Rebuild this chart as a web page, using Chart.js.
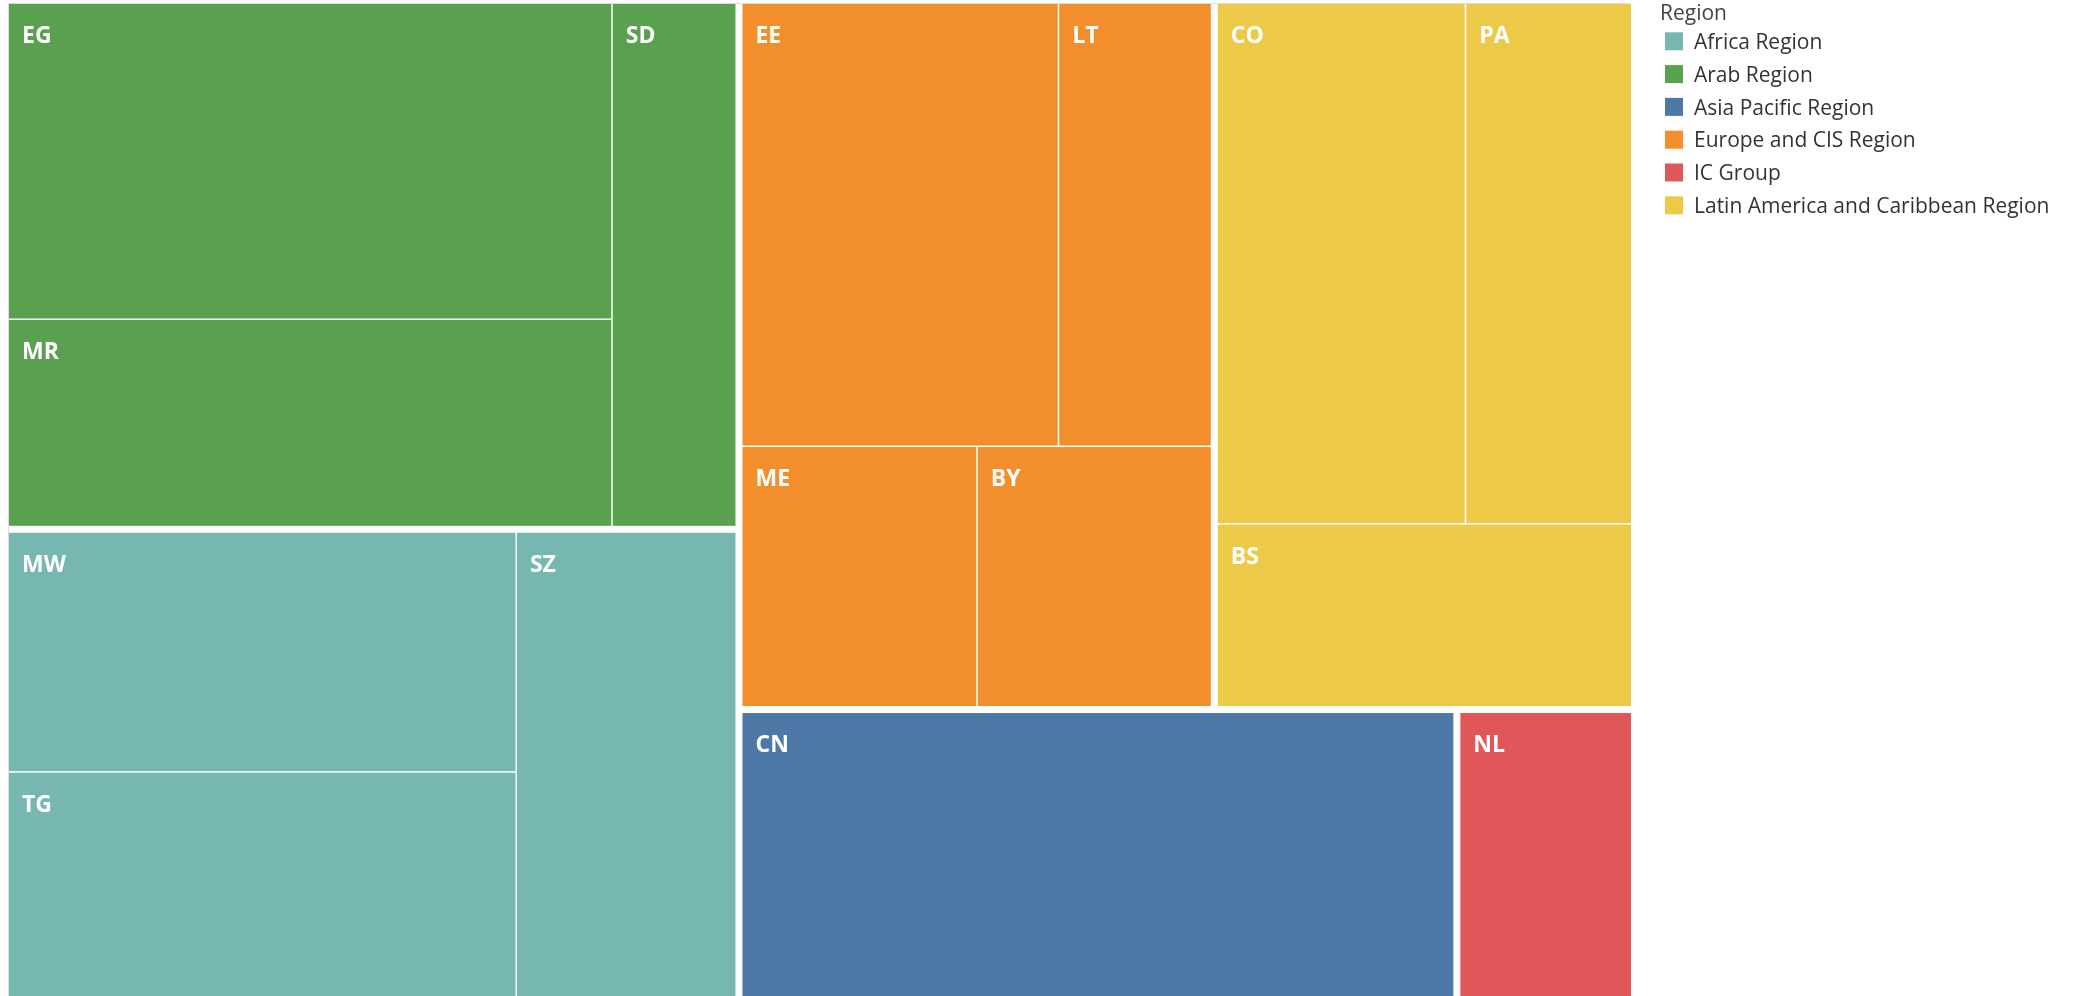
<!DOCTYPE html>
<html>
<head>
<meta charset="utf-8">
<title>Treemap by region</title>
<script src="https://cdn.jsdelivr.net/npm/chart.js@4.4.1/dist/chart.umd.min.js"></script>
<style>
  html, body { margin: 0; padding: 0; background: #fff; }
  #wrap { position: relative; width: 2082px; height: 996px; overflow: hidden; }
</style>
</head>
<body>
<div id="wrap"><canvas id="treemap" width="2082" height="996"></canvas></div>
<script>
// regions (legend order) and their colours
const regionNames = ['Africa Region', 'Arab Region', 'Asia Pacific Region', 'Europe and CIS Region', 'IC Group', 'Latin America and Caribbean Region'];
const regionColors = ['#76B7B2', '#59A14F', '#4E79A7', '#F28E2B', '#E15759', '#EDC948'];

// one cell per country
const countryCodes = ['EG', 'MR', 'SD', 'MW', 'TG', 'SZ', 'EE', 'LT', 'ME', 'BY', 'CO', 'PA', 'BS', 'CN', 'NL'];
const countryRegion = [1, 1, 1, 0, 0, 0, 3, 3, 3, 3, 5, 5, 5, 2, 4];
const countryValues = [119.5, 78.3, 40.5, 76.3, 71.5, 63.9, 88.6, 42.7, 38.6, 38.5, 81.1, 54.2, 47.4, 127.8, 31.0];

// plotting box in scale units (1 unit = 1 px)
const AREA_W = 1622, AREA_H = 992;
const REGION_GAP = 7, CELL_GAP = 1.5;
const PHI = (1 + Math.sqrt(5)) / 2;

// squarified layout (golden-ratio target), items sorted by value desc
function squarify(items, rect) {
  let { x0, y0, x1, y1 } = rect;
  let remaining = items.reduce((s, d) => s + d.value, 0);
  const n = items.length;
  let i0 = 0;
  while (i0 < n) {
    const dx = x1 - x0, dy = y1 - y0;
    let i1 = i0;
    let sum = items[i1++].value, minV = sum, maxV = sum;
    const alpha = Math.max(dy / dx, dx / dy) / (remaining * PHI);
    let beta = sum * sum * alpha;
    let minRatio = Math.max(maxV / beta, beta / minV);
    for (; i1 < n; i1++) {
      const v = items[i1].value;
      const s = sum + v, mn = Math.min(minV, v), mx = Math.max(maxV, v);
      beta = s * s * alpha;
      const r = Math.max(mx / beta, beta / mn);
      if (r > minRatio) break;
      minRatio = r; sum = s; minV = mn; maxV = mx;
    }
    const row = items.slice(i0, i1);
    if (dx < dy) {
      // row across the top
      const yb = i1 < n ? y0 + dy * sum / remaining : y1;
      let x = x0;
      row.forEach((d, k) => {
        const nx = k === row.length - 1 ? x1 : x + dx * d.value / sum;
        Object.assign(d, { x0: x, x1: nx, y0: y0, y1: yb });
        x = nx;
      });
      y0 = yb;
    } else {
      // column down the left side
      const xb = i1 < n ? x0 + dx * sum / remaining : x1;
      let y = y0;
      row.forEach((d, k) => {
        const ny = k === row.length - 1 ? y1 : y + dy * d.value / sum;
        Object.assign(d, { x0: x0, x1: xb, y0: y, y1: ny });
        y = ny;
      });
      x0 = xb;
    }
    remaining -= sum;
    i0 = i1;
  }
  return items;
}

// shrink a rect on the sides that are not on the outer border
function inset(r, gap, outer) {
  const h = gap / 2, eps = 0.01;
  return {
    x0: Math.abs(r.x0 - outer.x0) < eps ? r.x0 : r.x0 + h,
    x1: Math.abs(r.x1 - outer.x1) < eps ? r.x1 : r.x1 - h,
    y0: Math.abs(r.y0 - outer.y0) < eps ? r.y0 : r.y0 + h,
    y1: Math.abs(r.y1 - outer.y1) < eps ? r.y1 : r.y1 - h
  };
}

function buildCells() {
  const outer = { x0: 0, y0: 0, x1: AREA_W, y1: AREA_H };
  const groups = regionNames.map((name, i) => {
    const kids = countryCodes
      .map((code, j) => ({ code, value: countryValues[j], region: countryRegion[j] }))
      .filter(d => d.region === i)
      .sort((a, b) => b.value - a.value);
    return { index: i, kids, value: kids.reduce((s, d) => s + d.value, 0) };
  }).sort((a, b) => b.value - a.value);

  squarify(groups, outer);
  const cells = [];
  groups.forEach(g => {
    const box = inset(g, REGION_GAP, outer);
    squarify(g.kids, box);
    g.kids.forEach(k => {
      const r = inset(k, CELL_GAP, box);
      cells.push({ ...r, code: k.code, color: regionColors[g.index] });
    });
  });
  return cells;
}

const cells = buildCells();

const treemapPlugin = {
  id: 'treemapCells',
  beforeDatasetsDraw(chart) {
    const { ctx, chartArea, scales: { x, y } } = chart;
    ctx.save();
    // faint pane border
    ctx.strokeStyle = 'rgba(0,0,0,0.13)';
    ctx.lineWidth = 1;
    ctx.beginPath();
    ctx.moveTo(chartArea.left - 0.5, chartArea.bottom);
    ctx.lineTo(chartArea.left - 0.5, chartArea.top - 0.5);
    ctx.lineTo(chartArea.right, chartArea.top - 0.5);
    ctx.stroke();

    cells.forEach(c => {
      const left = x.getPixelForValue(c.x0), right = x.getPixelForValue(c.x1);
      const top = y.getPixelForValue(c.y0), bottom = y.getPixelForValue(c.y1);
      ctx.fillStyle = c.color;
      ctx.fillRect(left, top, right - left, bottom - top);
    });
    ctx.fillStyle = '#ffffff';
    ctx.font = 'bold 23px "Open Sans"';
    ctx.textBaseline = 'alphabetic';
    ctx.textAlign = 'left';
    cells.forEach(c => {
      const left = x.getPixelForValue(c.x0), top = y.getPixelForValue(c.y0);
      ctx.fillText(c.code, left + 13, top + 39.4);
    });
    ctx.restore();
  }
};

const legendPlugin = {
  id: 'regionLegend',
  afterDraw(chart) {
    const { ctx, chartArea } = chart;
    const lx = chartArea.right + 29;
    ctx.save();
    ctx.textBaseline = 'alphabetic';
    ctx.font = '21px "Open Sans"';
    ctx.fillStyle = '#444';
    ctx.fillText('Region', lx, 20);
    regionNames.forEach((name, i) => {
      const top = 32.3 + i * 32.8;
      ctx.fillStyle = regionColors[i];
      ctx.fillRect(lx + 5, top, 18, 18);
      ctx.fillStyle = '#333';
      ctx.fillText(name, lx + 34, top + 16.7);
    });
    ctx.restore();
  }
};

function draw() {
  new Chart(document.getElementById('treemap'), {
    type: 'scatter',
    data: {
      datasets: regionNames.map((name, i) => ({ label: name, data: [], backgroundColor: regionColors[i] }))
    },
    options: {
      responsive: false,
      animation: false,
      layout: { padding: { left: 9, top: 4, right: 2082 - 9 - AREA_W, bottom: 0 } },
      scales: {
        x: { type: 'linear', min: 0, max: AREA_W, display: false },
        y: { type: 'linear', min: 0, max: AREA_H, reverse: true, display: false }
      },
      plugins: { legend: { display: false }, tooltip: { enabled: false } }
    },
    plugins: [treemapPlugin, legendPlugin]
  });
}

Promise.all([
  document.fonts.load('21px "Open Sans"'),
  document.fonts.load('bold 23px "Open Sans"')
]).then(draw, draw);
</script>
</body>
</html>
